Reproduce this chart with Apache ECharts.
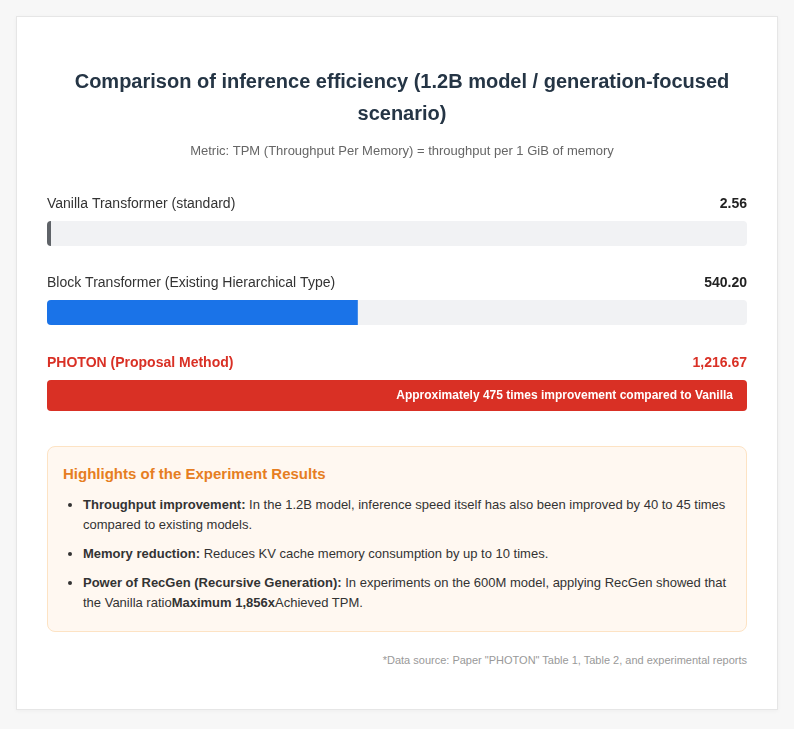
<!DOCTYPE html>
<html>
<head>
<meta charset="utf-8">
<script src="https://cdn.jsdelivr.net/npm/echarts@6/dist/echarts.min.js"></script>
<style>
  html, body { margin: 0; padding: 0; background: #f7f7f7; font-family: "Liberation Sans", Arial, sans-serif; }
  #card { position: absolute; left: 16px; top: 16px; width: 760px; height: 692px; background: #fff;
    border: 1px solid #e6e6e6; box-shadow: 0 1px 4px rgba(0,0,0,0.04); }
  #chart { position: absolute; left: 0; top: 0; width: 760px; height: 420px; }
  #box { position: absolute; left: 30px; top: 429px; width: 698px; height: 184px; background: #fff8f1;
    border: 1px solid #fde3c4; border-radius: 8px; box-sizing: content-box; }
  #box h3 { margin: 0; position: absolute; left: 15px; top: 18px; font-size: 15px; color: #e67e22; font-weight: bold; }
  #box ul { position: absolute; left: 0; top: 48px; margin: 0; padding-left: 35px; padding-right: 16px;
    font-size: 13px; color: #333; line-height: 20px; }
  #box li { margin-bottom: 9px; }
  #box li b { color: #333; }
  #note { position: absolute; right: 30px; top: 637px; font-size: 11px; color: #999; }
</style>
</head>
<body>
<div id="card">
  <div id="chart"></div>
  <div id="box">
    <h3>Highlights of the Experiment Results</h3>
    <ul>
      <li><b>Throughput improvement:</b> In the 1.2B model, inference speed itself has also been improved by 40 to 45 times compared to existing models.</li>
      <li><b>Memory reduction:</b> Reduces KV cache memory consumption by up to 10 times.</li>
      <li><b>Power of RecGen (Recursive Generation):</b> In experiments on the 600M model, applying RecGen showed that the Vanilla ratio<b>Maximum 1,856x</b>Achieved TPM.</li>
    </ul>
  </div>
  <div id="note">*Data source: Paper "PHOTON" Table 1, Table 2, and experimental reports</div>
</div>
<script>
// 数据
const categories = ['Vanilla Transformer (standard)', 'Block Transformer (Existing Hierarchical Type)', 'PHOTON (Proposal Method)'];
const tpmValues = [2.56, 540.20, 1216.67];
const valueLabels = ['2.56', '540.20', '1,216.67'];
const barNotes = ['', '', 'Approximately 475 times improvement compared to Vanilla'];

// 样式
const barColors = ['#5f6368', '#1a73e8', '#d93025'];
const nameColors = ['#333', '#333', '#d93025'];
const gridTops = [204, 283, 363];
const gridHeights = [25, 25, 31];
const maxValue = Math.max(...tpmValues);

const chart = echarts.init(document.getElementById('chart'));

let grids = [], xAxes = [], yAxes = [], series = [], texts = [];
categories.forEach((name, i) => {
  const isTop = i === categories.length - 1;
  grids.push({ left: 30, width: 700, top: gridTops[i], height: gridHeights[i] });
  xAxes.push({ gridIndex: i, type: 'value', min: 0, max: maxValue, show: false });
  yAxes.push({ gridIndex: i, type: 'category', data: [name], show: false });
  series.push({
    type: 'bar',
    xAxisIndex: i,
    yAxisIndex: i,
    data: [tpmValues[i]],
    barWidth: '100%',
    barMinHeight: 4,
    showBackground: true,
    backgroundStyle: { color: '#f1f2f4', borderRadius: 4 },
    itemStyle: { color: barColors[i], borderRadius: isTop ? 4 : [4, 0, 0, 4] },
    label: {
      show: !!barNotes[i],
      position: 'insideRight',
      distance: 14,
      formatter: barNotes[i],
      color: '#fff',
      fontSize: 12,
      fontWeight: 'bold',
      fontFamily: 'Liberation Sans'
    },
    silent: true
  });
  // 名称与数值
  texts.push({
    type: 'text', left: 30, top: gridTops[i] - 24,
    style: { text: name, fontSize: 14, fontWeight: isTop ? 'bold' : 'normal', fill: nameColors[i], fontFamily: 'Liberation Sans' }
  });
  texts.push({
    type: 'text', right: 30, top: gridTops[i] - 24,
    style: { text: valueLabels[i], fontSize: 14, fontWeight: 'bold', fill: isTop ? '#d93025' : '#222', fontFamily: 'Liberation Sans', textAlign: 'right' }
  });
});

chart.setOption({
  animation: false,
  title: [{
    text: 'Comparison of inference efficiency (1.2B model / generation-focused\nscenario)',
    left: 380, top: 44,
    textAlign: 'center',
    textStyle: { fontSize: 20, fontWeight: 'bold', color: '#253545', lineHeight: 32, fontFamily: 'Liberation Sans' }
  }, {
    text: 'Metric: TPM (Throughput Per Memory) = throughput per 1 GiB of memory',
    left: 380, top: 121,
    textAlign: 'center',
    textStyle: { fontSize: 13, fontWeight: 'normal', color: '#666', lineHeight: 16, fontFamily: 'Liberation Sans' }
  }],
  grid: grids,
  xAxis: xAxes,
  yAxis: yAxes,
  series: series,
  graphic: texts
});
</script>
</body>
</html>
